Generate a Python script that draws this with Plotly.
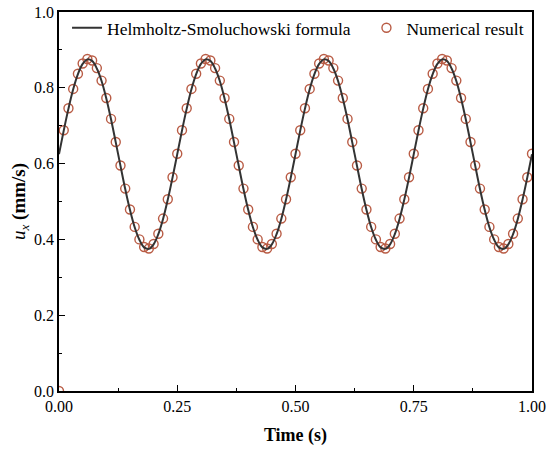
import numpy as np
import plotly.graph_objects as go

# time axis (s), 0.01 s steps
time = np.linspace(0, 1, 101)

# Helmholtz-Smoluchowski formula, u_x (mm/s)
u_formula = [
    0.625, 0.687, 0.745, 0.796, 0.836, 0.863, 0.875, 0.871, 0.851, 0.818,
    0.772, 0.717, 0.656, 0.594, 0.533, 0.478, 0.432, 0.399, 0.379, 0.375,
    0.387, 0.414, 0.454, 0.505, 0.563, 0.625, 0.687, 0.745, 0.796, 0.836,
    0.863, 0.875, 0.871, 0.851, 0.818, 0.772, 0.717, 0.656, 0.594, 0.533,
    0.478, 0.432, 0.399, 0.379, 0.375, 0.387, 0.414, 0.454, 0.505, 0.563,
    0.625, 0.687, 0.745, 0.796, 0.836, 0.863, 0.875, 0.871, 0.851, 0.818,
    0.772, 0.717, 0.656, 0.594, 0.533, 0.478, 0.432, 0.399, 0.379, 0.375,
    0.387, 0.414, 0.454, 0.505, 0.563, 0.625, 0.687, 0.745, 0.796, 0.836,
    0.863, 0.875, 0.871, 0.851, 0.818, 0.772, 0.717, 0.656, 0.594, 0.533,
    0.478, 0.432, 0.399, 0.379, 0.375, 0.387, 0.414, 0.454, 0.505, 0.563,
    0.625,
]

# numerical result (first sample is the initial state at rest)
u_numerical = [
    0.000, 0.688, 0.746, 0.797, 0.837, 0.864, 0.876, 0.872, 0.852, 0.819,
    0.773, 0.718, 0.657, 0.595, 0.534, 0.479, 0.433, 0.400, 0.380, 0.376,
    0.388, 0.415, 0.455, 0.506, 0.564, 0.626, 0.688, 0.746, 0.797, 0.837,
    0.864, 0.876, 0.872, 0.852, 0.819, 0.773, 0.718, 0.657, 0.595, 0.534,
    0.479, 0.433, 0.400, 0.380, 0.376, 0.388, 0.415, 0.455, 0.506, 0.564,
    0.626, 0.688, 0.746, 0.797, 0.837, 0.864, 0.876, 0.872, 0.852, 0.819,
    0.773, 0.718, 0.657, 0.595, 0.534, 0.479, 0.433, 0.400, 0.380, 0.376,
    0.388, 0.415, 0.455, 0.506, 0.564, 0.626, 0.688, 0.746, 0.797, 0.837,
    0.864, 0.876, 0.872, 0.852, 0.819, 0.773, 0.718, 0.657, 0.595, 0.534,
    0.479, 0.433, 0.400, 0.380, 0.376, 0.388, 0.415, 0.455, 0.506, 0.564,
    0.626,
]

serif = "Liberation Serif, Times New Roman, serif"
marker_color = "#b95c45"

fig = go.Figure()
# circles first so the formula line runs across them
fig.add_trace(go.Scatter(
    x=time, y=u_numerical, mode="markers",
    name="Numerical result", legend="legend2", showlegend=True,
    marker=dict(symbol="circle-open", size=9, color=marker_color,
                line=dict(width=1.4, color=marker_color)),
))
fig.add_trace(go.Scatter(
    x=time, y=u_formula, mode="lines", line_shape="spline",
    name="Helmholtz-Smoluchowski formula", legend="legend", showlegend=True,
    line=dict(color="#333333", width=2),
))

axis_style = dict(
    showline=True, linecolor="black", linewidth=1.5, mirror=True,
    ticks="inside", ticklen=6, tickwidth=1.3, tickcolor="black",
    showgrid=False, zeroline=False, automargin=False,
    tickfont=dict(family=serif, size=16, color="black"),
)

fig.update_xaxes(
    **axis_style, range=[0, 1], dtick=0.25, tickformat=".2f",
    minor=dict(ticks="inside", ticklen=3, dtick=0.125, tickcolor="black"),
    title=dict(text="<b>Time (s)</b>", font=dict(family=serif, size=18, color="black"),
               standoff=14),
)
fig.update_yaxes(
    **axis_style, range=[0, 1], dtick=0.2, tickformat=".1f",
    minor=dict(ticks="inside", ticklen=3, dtick=0.1, tickcolor="black"),
    title=dict(text="<i>u</i><sub><i>x</i></sub><b> (mm/s)</b>",
               font=dict(family=serif, size=19, color="black"), standoff=3),
)

legend_style = dict(
    orientation="h", y=1.003, yanchor="top", xanchor="left",
    font=dict(family=serif, size=17.5, color="black"),
    bgcolor="rgba(0,0,0,0)",
)

fig.update_layout(
    width=550, height=450,
    margin=dict(l=59, r=18, t=11, b=59),
    plot_bgcolor="white", paper_bgcolor="white",
    showlegend=True,
    legend=dict(**legend_style, x=0.017, visible=True),
    legend2=dict(**legend_style, x=0.650, visible=True),
)

# drop the default page margin so the figure fills the window exactly
fig.write_html("out.html", config={"displayModeBar": False},
               post_script="document.body.style.margin='0';")
